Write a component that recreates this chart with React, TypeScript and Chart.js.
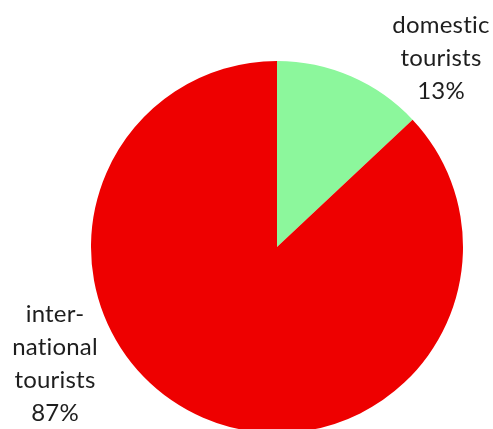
import React, { useEffect, useRef } from "react";
import { Chart, registerables } from "chart.js";

Chart.register(...registerables);

const categories = ["domestic tourists", "international tourists"];
const shares = [13, 87];
const sliceColors = ["#8cf79c", "#ee0000"];
const labelLines = [
  ["domestic", "tourists", "13%"],
  ["inter-", "national", "tourists", "87%"],
];

export default function App() {
  const ref = useRef<HTMLCanvasElement | null>(null);
  useEffect(() => {
    if (!ref.current) return;
    const labelPlugin = {
      id: "outerLabels",
      afterDraw(chart: any) {
        const ctx = chart.ctx;
        const meta = chart.getDatasetMeta(0);
        const arc = meta.data[0];
        const cx = arc.x;
        const cy = arc.y;
        ctx.save();
        ctx.font = "24px Lato, 'Open Sans', sans-serif";
        (ctx as any).letterSpacing = "0.2px";
        (ctx as any).fontVariantLigatures = "none";
        ctx.fillStyle = "#1e1e1e";
        ctx.textAlign = "center";
        ctx.textBaseline = "alphabetic";
        const specs = [
          { dx: 164, dy: -214 },
          { dx: -222, dy: 75 },
        ];
        labelLines.forEach((lines, i) => {
          lines.forEach((t, j) => {
            ctx.fillText(t, cx + specs[i].dx, cy + specs[i].dy + j * 33);
          });
        });
        ctx.restore();
      },
    };
    const chart = new Chart(ref.current, {
      type: "pie",
      data: {
        labels: categories,
        datasets: [
          {
            data: shares,
            backgroundColor: sliceColors,
            borderWidth: 0,
          },
        ],
      },
      options: {
        responsive: false,
        animation: false,
        layout: { padding: { left: 91, right: 30, top: 61, bottom: 7 } },
        plugins: {
          legend: { display: false },
          tooltip: { enabled: false },
        },
      },
      plugins: [labelPlugin],
    });
    return () => chart.destroy();
  }, []);
  return (
    <div
      style={{
        position: "absolute",
        left: 0,
        top: 0,
        width: 493,
        height: 429,
        overflow: "hidden",
        background: "#fff",
      }}
    >
      <canvas ref={ref} width={493} height={440} style={{ width: 493, height: 440 }} />
    </div>
  );
}
